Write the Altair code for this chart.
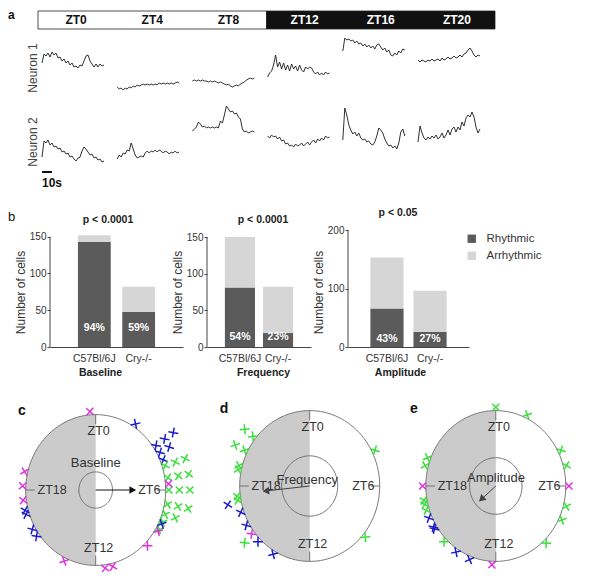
import numpy as np
import pandas as pd
import altair as alt

F = "Liberation Sans, Arial, sans-serif"
FN = "Liberation Sans Narrow, Arial Narrow, Liberation Sans, sans-serif"

# ======================= a : calcium traces =======================
zt_hours = [0, 4, 8, 12, 16, 20]
zt_labels = ["ZT0", "ZT4", "ZT8", "ZT12", "ZT16", "ZT20"]
phase_names = ["light", "dark"]
phase_start = [0, 12]
phase_end = [12, 24]

# neuron traces, one sample every 2 s over a 62 s recording (arbitrary fluorescence units)
n1_zt0 = [124,133,131,134,130,135,132,134,129,130,126,128,124,126,122,124,120,121,119,122,121,126,131,132,126,123,120,123,120,123,121,122]
n1_zt4 = [100,98,99,97,99,98,100,99,101,100,102,101,102,103,102,103,102,103,102,103,102,104,103,104,103,104,103,104,103,104,105,104]
n1_zt8 = [106,107,106,107,106,107,106,106,105,106,105,106,105,104,105,104,103,102,103,101,100,101,102,101,103,104,105,107,108,109,108,109]
n1_zt12 = [110,114,116,122,132,120,125,118,124,117,122,116,123,118,121,116,122,117,115,120,118,120,119,115,113,115,112,114,112,115,113,114]
n1_zt16 = [136,149,147,148,146,147,144,146,143,144,141,143,140,142,139,141,138,142,143,140,137,139,135,137,132,131,134,132,136,134,138,137]
n1_zt20 = [127,125,127,126,125,127,126,128,126,127,128,126,129,127,128,130,128,129,131,129,130,132,130,133,134,137,139,136,132,130,132,131]
n2_zt0 = [30,46,44,47,42,44,40,41,38,39,35,36,33,34,30,31,28,26,29,30,36,40,38,35,32,33,29,30,27,28,25,26]
n2_zt4 = [28,32,30,34,33,37,36,44,38,32,29,30,31,30,34,36,34,36,35,37,35,37,36,34,36,35,33,35,34,36,34,35]
n2_zt8 = [56,58,60,65,63,60,61,59,60,59,60,59,60,59,66,64,72,81,78,75,76,73,74,70,68,58,55,56,54,55,56,55]
n2_zt12 = [51,49,52,50,51,48,50,46,47,43,44,41,42,40,43,41,42,44,41,43,45,42,45,47,44,48,46,49,47,51,49,50]
n2_zt16 = [47,79,72,62,57,53,55,51,54,49,47,48,45,46,43,42,45,51,59,57,54,48,44,41,42,39,41,38,44,55,58,51]
n2_zt20 = [45,61,54,49,47,50,48,51,49,52,48,50,54,49,52,57,52,58,60,55,60,57,65,61,69,72,70,75,70,60,54,58]
neuron_names = ["Neuron 1", "Neuron 2"]
traces = {
    "Neuron 1": [n1_zt0, n1_zt4, n1_zt8, n1_zt12, n1_zt16, n1_zt20],
    "Neuron 2": [n2_zt0, n2_zt4, n2_zt8, n2_zt12, n2_zt16, n2_zt20],
}
SAMPLE_S = 2
RECORD_SLOT_S = 75.2
RECORD_START_S = 4

# ======================= b : rhythmic cells =======================
genotypes = ["C57Bl/6J", "Cry-/-"]
status_names = ["Rhythmic", "Arrhythmic"]
baseline_total = [152, 82]
baseline_rhythmic = [143, 48]
baseline_pct = ["94%", "59%"]
frequency_total = [150, 82]
frequency_rhythmic = [81, 19]
frequency_pct = ["54%", "23%"]
amplitude_total = [153, 96]
amplitude_rhythmic = [66, 26]
amplitude_pct = ["43%", "27%"]
p_values = ["p < 0.0001", "p < 0.0001", "p < 0.05"]
measures = ["Baseline", "Frequency", "Amplitude"]

# ======================= c-e : phase plots =======================
ring_hours = [0, 6, 12, 18]
ring_labels = ["ZT0", "ZT6", "ZT12", "ZT18"]
group_names = ["group 1", "group 2", "group 3"]
group_colors = ["#e030e0", "#1a1acc", "#36e036"]

c_hours = [23.7, 2.2, 3.7, 3.7, 3.7, 4.1, 4.1, 4.5,
           4.8, 4.8, 4.8, 5.4, 5.4, 5.4, 6.0, 6.0, 6.0, 6.7, 6.7, 6.7, 7.2, 7.2, 7.6, 8.0,
           5.7, 7.7, 8.1, 9.0, 11.1, 11.5, 13.7, 15.6, 16.0, 16.8, 17.0, 17.5, 18.2, 18.9]
c_groups = (["group 1"] + ["group 2"] * 7 + ["group 3"] * 16 +
            ["group 1", "group 2", "group 1", "group 1", "group 1", "group 1", "group 1",
             "group 2", "group 2", "group 2", "group 2", "group 1", "group 1", "group 1"])
c_levels = [0, 0, 0, 1, 2, 0, 1, 0,
            0, 1, 2, 0, 1, 2, 0, 1, 2, 0, 1, 2, 0, 1, 0, 0] + [0] * 14

d_hours = [20.6, 20.6, 19.8, 19.8, 19.0, 18.8, 17.5, 17.3, 17.2, 16.7, 16.0, 15.5, 15.4, 15.0, 14.0, 4.2, 8.7]
d_groups = ["group 3"] * 8 + ["group 2", "group 2", "group 2", "group 1", "group 3", "group 2", "group 2", "group 3", "group 3"]
d_levels = [0, 1, 0, 1, 0, 0, 0, 0, 1, 0, 0, 0, 1, 0, 0, 0, 0]

e_hours = [0.0, 1.7, 4.2, 5.0, 6.0, 7.0, 7.7, 9.1, 12.2, 13.4, 14.2, 15.0, 15.8, 15.9, 16.4, 16.8, 17.1, 17.3, 18.0, 19.0, 19.4]
e_groups = ["group 3", "group 3", "group 3", "group 3", "group 1", "group 3", "group 3", "group 3", "group 1",
            "group 2", "group 2", "group 3", "group 2", "group 2", "group 2", "group 3", "group 3", "group 3",
            "group 1", "group 3", "group 3"]
e_levels = [0] * 21

arrow_hours = [6.0, 17.6, 15.3]
arrow_lengths = [0.59, 0.69, 0.33]


def one(**kw):
    return pd.DataFrame({k: [v] for k, v in kw.items()})


# ------------------------------------------------------------------
# Panel a
# ------------------------------------------------------------------
WA, HA = 584, 177
PX_PER_H = 457 / 24.0
xs_h = alt.Scale(domain=[-30 / PX_PER_H, (WA - 30) / PX_PER_H], nice=False, zero=False)
xs_s = alt.Scale(domain=[-30, WA - 30], nice=False, zero=False)
ys_a = alt.Scale(domain=[0, HA], nice=False, zero=False)

rows = []
for name in neuron_names:
    for k, vals in enumerate(traces[name]):
        for i, v in enumerate(vals):
            rows.append({"trace": f"{name}-{zt_labels[k]}", "i": i,
                         "t": RECORD_START_S + RECORD_SLOT_S * k + SAMPLE_S * i, "v": v})
trace_df = pd.DataFrame(rows)

phase_df = pd.DataFrame({"start": phase_start, "end": phase_end, "phase": phase_names})
phase_df["y0"] = 158
phase_df["y1"] = 176
ztlab_df = pd.DataFrame({"zt": zt_hours, "label": zt_labels})
ztlab_df["mid"] = ztlab_df["zt"] + 2
ztlab_df["phase"] = np.where(ztlab_df["zt"] < 12, "light", "dark")
ztlab_df["y"] = 167


def XS(f):
    return alt.X(f, scale=xs_s, axis=None)


def YA(f):
    return alt.Y(f, scale=ys_a, axis=None)


strip = alt.Chart(phase_df).mark_rect(stroke="#222", strokeWidth=0.8).encode(
    x=alt.X("start:Q", scale=xs_h, axis=None), x2="end:Q",
    y=YA("y0:Q"), y2="y1:Q",
    fill=alt.Fill("phase:N", scale=alt.Scale(domain=phase_names, range=["white", "#111111"]), legend=None))
strip_text = alt.Chart(ztlab_df).mark_text(font=F, fontSize=12, fontWeight="bold").encode(
    x=alt.X("mid:Q", scale=xs_h, axis=None), y=YA("y:Q"), text="label:N",
    color=alt.Color("phase:N", scale=alt.Scale(domain=phase_names, range=["#111111", "white"]), legend=None))
lines = alt.Chart(trace_df).mark_line(color="#1a1a1a", strokeWidth=0.9).encode(
    x=XS("t:Q"), y=YA("v:Q"), detail="trace:N", order="i:Q")
nlab_df = pd.DataFrame({"n": neuron_names, "x": [-5, -5], "y": [119, 45]})
nlab = alt.Chart(nlab_df).mark_text(font=F, fontSize=12, angle=270, color="#444").encode(
    x=XS("x:Q"), y=YA("y:Q"), text="n:N")
scalebar = alt.Chart(one(t0=4, t1=14, y=15)).mark_rule(color="#111", strokeWidth=2).encode(
    x=XS("t0:Q"), x2="t1:Q", y=YA("y:Q"))
scalebar_txt = alt.Chart(one(s="10s", x=4, y=4)).mark_text(font=F, fontSize=12, fontWeight="bold", align="left", color="#111").encode(
    x=XS("x:Q"), y=YA("y:Q"), text="s:N")
a_lab = alt.Chart(one(s="a", x=-30, y=172)).mark_text(font=F, fontSize=12, fontWeight="bold", align="left", color="#111").encode(
    x=XS("x:Q"), y=YA("y:Q"), text="s:N")

rowA = alt.layer(strip, strip_text, lines, nlab, scalebar, scalebar_txt, a_lab).resolve_scale(
    x="independent").properties(width=WA, height=HA)

# ------------------------------------------------------------------
# Panel b
# ------------------------------------------------------------------
HB = 142


def bar_chart(total, rhythmic, pct, measure, pval, width, pin, pout, ymax, ticks,
              title_px, title_v, xtitle_x, pct_dy, legend):
    df = pd.DataFrame({
        "genotype": genotypes * 2,
        "status": [status_names[0]] * 2 + [status_names[1]] * 2,
        "cells": list(rhythmic) + [t - r for t, r in zip(total, rhythmic)],
        "ord": [0, 0, 1, 1],
    })
    xenc = alt.X("genotype:N", sort=genotypes,
                 scale=alt.Scale(paddingInner=pin, paddingOuter=pout),
                 axis=alt.Axis(title=measure, labelAngle=0, domainColor="#444", ticks=False,
                               labelFont=FN, labelFontSize=10.5, labelColor="#333", labelPadding=6,
                               titleFont=FN, titleFontSize=10.5, titleFontWeight="bold", titleColor="#222",
                               titlePadding=4, titleX=xtitle_x))
    ys = alt.Scale(domain=[0, ymax], nice=False, zero=True)
    bars = alt.Chart(df).mark_bar().encode(
        x=xenc,
        y=alt.Y("cells:Q", stack="zero", scale=ys,
                axis=alt.Axis(values=ticks, title="Number of cells", domain=False, grid=False,
                              tickSize=3, tickColor="#444", labelFont=FN, labelFontSize=10,
                              labelColor="#333", labelPadding=1, titleFont=F, titleFontSize=12,
                              titleFontWeight="normal", titleColor="#333", titlePadding=2, titleY=87)),
        color=alt.Color("status:N", scale=alt.Scale(domain=status_names, range=["#5b5b5b", "#d6d6d6"]),
                        legend=legend),
        order=alt.Order("ord:Q"),
    )
    yline = alt.Chart(one(y0=0, y1=ticks[-1])).mark_rule(color="#444", strokeWidth=1).encode(
        x=alt.value(0), y=alt.Y("y0:Q", scale=ys), y2="y1:Q")
    pdf = pd.DataFrame({"genotype": genotypes, "pct": pct, "y": [0, 0]})
    ptxt = alt.Chart(pdf).mark_text(color="white", font=FN, fontSize=10.5, fontWeight="bold", dy=pct_dy).encode(
        x=alt.X("genotype:N", sort=genotypes), y=alt.Y("y:Q", scale=ys), text="pct:N")
    ttl = alt.Chart(one(p=pval, y=title_v)).mark_text(font=FN, fontSize=10.5, fontWeight="bold", color="#222").encode(
        x=alt.value(title_px), y=alt.Y("y:Q", scale=ys), text="p:N")
    return alt.layer(bars, yline, ptxt, ttl).properties(width=width, height=HB)


b1 = bar_chart(baseline_total, baseline_rhythmic, baseline_pct, measures[0], p_values[0],
               133, 0.26, 0.63, HB / 0.7353, [0, 50, 100, 150], 58, 172.7, 50, -19, None)
b2 = bar_chart(frequency_total, frequency_rhythmic, frequency_pct, measures[1], p_values[1],
               104, 0.21, 0.47, HB / 0.7333, [0, 50, 100, 150], 56, 172.7, 56, -10, None)
leg = alt.Legend(orient="none", legendX=118, legendY=28, title=None, symbolType="square", symbolSize=70,
                 symbolStrokeWidth=0, labelFont=F, labelFontSize=11.5, labelColor="#333", rowPadding=4,
                 labelOffset=9)
b3 = bar_chart(amplitude_total, amplitude_rhythmic, amplitude_pct, measures[2], p_values[2],
               121, 0.23, 0.52, HB / 0.585, [0, 50, 100, 150, 200], 50, 229, 52, -8, leg)


def spacer(w):
    return alt.Chart(one(s="")).mark_text().encode(text="s:N").properties(width=w, height=HB)


b_lab = alt.Chart(one(s="b")).mark_text(font=F, fontSize=13, align="left", color="#111").encode(
    text="s:N", x=alt.value(0), y=alt.value(12)).properties(width=42, height=HB)

rowB = alt.hconcat(b_lab, b1, spacer(24), b2, spacer(37), b3, spacing=0, bounds="flush").resolve_scale(
    color="independent").resolve_legend(color="independent")

# ------------------------------------------------------------------
# Panels c - e
# ------------------------------------------------------------------
RX, RY = 70.0, 75.4
ROW_C_TOP, ROW_C_BOTTOM = 392, 568
STACK_STEP = 0.15
theta = np.radians(np.arange(0, 361, 3))
circle_df = pd.DataFrame({"x": np.sin(theta), "y": np.cos(theta), "i": np.arange(len(theta))})
half_theta = np.radians(np.arange(180, 361, 3))
half_df = pd.DataFrame({"x": np.sin(half_theta), "y": np.cos(half_theta), "x0": 0.0})


def phase_panel(letter, letter_xy, center_text, center_xy, left, width, cx, cy,
                hours, groups, levels, arrow_hour, arrow_len, arrow_color, inner_r):
    xs = alt.Scale(domain=[(left - cx) / RX, (left + width - cx) / RX], nice=False, zero=False)
    ys = alt.Scale(domain=[-(ROW_C_BOTTOM - cy) / RY, (cy - ROW_C_TOP) / RY], nice=False, zero=False)

    def X(f):
        return alt.X(f, scale=xs, axis=None)

    def Y(f):
        return alt.Y(f, scale=ys, axis=None)

    half = alt.Chart(half_df).mark_area(orient="horizontal", color="#cbcbcb").encode(
        x=X("x:Q"), x2="x0:Q", y=Y("y:Q"))
    outer = alt.Chart(circle_df).mark_line(color="#7a7a7a", strokeWidth=1).encode(
        x=X("x:Q"), y=Y("y:Q"), order="i:Q")
    inner_df = pd.DataFrame({"x": circle_df["x"] * inner_r, "y": circle_df["y"] * inner_r, "i": circle_df["i"]})
    inner = alt.Chart(inner_df).mark_line(color="#666", strokeWidth=0.9).encode(
        x=X("x:Q"), y=Y("y:Q"), order="i:Q")

    th = np.array(ring_hours) / 24 * 2 * np.pi
    tick_df = pd.DataFrame({"x0": 0.87 * np.sin(th), "y0": 0.87 * np.cos(th), "x1": np.sin(th), "y1": np.cos(th)})
    ticks = alt.Chart(tick_df).mark_rule(color="#666", strokeWidth=0.9).encode(
        x=X("x0:Q"), y=Y("y0:Q"), x2="x1:Q", y2="y1:Q")

    lab_df = pd.DataFrame({"h": ring_hours, "label": ring_labels})
    lab_tb = lab_df[lab_df.h.isin([0, 12])].copy()
    lab_tb["x"] = 0.0
    lab_tb["y"] = np.where(lab_tb.h == 0, 0.78, -0.77)
    lab_r = lab_df[lab_df.h == 6].assign(x=0.925, y=0.0)
    lab_l = lab_df[lab_df.h == 18].assign(x=-0.83, y=0.0)
    tl = dict(font=F, fontSize=12.5, color="#333")
    l1 = alt.Chart(lab_tb).mark_text(dx=3, **tl).encode(x=X("x:Q"), y=Y("y:Q"), text="label:N")
    l2 = alt.Chart(lab_r).mark_text(align="right", **tl).encode(x=X("x:Q"), y=Y("y:Q"), text="label:N")
    l3 = alt.Chart(lab_l).mark_text(align="left", **tl).encode(x=X("x:Q"), y=Y("y:Q"), text="label:N")

    ctr = alt.Chart(one(s=center_text, x=center_xy[0], y=center_xy[1])).mark_text(font=F, fontSize=13, color="#333").encode(
        x=X("x:Q"), y=Y("y:Q"), text="s:N")

    a = arrow_hour / 24 * 2 * np.pi
    ang = float(np.degrees(np.arctan2(np.sin(a) * RX, np.cos(a) * RY)) % 360)
    arr_df = one(x0=0.0, y0=0.0,
                 x1=(arrow_len - 0.07) * np.sin(a), y1=(arrow_len - 0.07) * np.cos(a),
                 hx=(arrow_len - 0.06) * np.sin(a), hy=(arrow_len - 0.06) * np.cos(a), ang=ang)
    shaft = alt.Chart(arr_df).mark_rule(color=arrow_color, strokeWidth=1).encode(
        x=X("x0:Q"), y=Y("y0:Q"), x2="x1:Q", y2="y1:Q")
    head = alt.Chart(arr_df).mark_point(shape="triangle-up", filled=True, size=60, color=arrow_color, opacity=1).encode(
        x=X("hx:Q"), y=Y("hy:Q"), angle=alt.Angle("ang:Q", scale=None))

    hh = np.array(hours, dtype=float)
    tm = hh / 24 * 2 * np.pi
    r = 1.045 + STACK_STEP * np.array(levels)
    mdf = pd.DataFrame({"x": r * np.sin(tm), "y": r * np.cos(tm), "group": groups, "ang": (45 + hh * 15) % 360})
    marks = alt.Chart(mdf).mark_point(shape="M -1 0 L 1 0 M 0 -1 L 0 1", filled=False, size=100,
                                      strokeWidth=1.5, opacity=1).encode(
        x=X("x:Q"), y=Y("y:Q"),
        color=alt.Color("group:N", scale=alt.Scale(domain=group_names, range=group_colors), legend=None),
        angle=alt.Angle("ang:Q", scale=None))

    let = alt.Chart(one(s=letter, x=letter_xy[0], y=letter_xy[1])).mark_text(font=F, fontSize=14, fontWeight="bold", color="#111").encode(
        x=X("x:Q"), y=Y("y:Q"), text="s:N")

    return alt.layer(half, outer, inner, ticks, l1, l2, l3, ctr, shaft, head, marks, let).properties(
        width=width, height=ROW_C_BOTTOM - ROW_C_TOP)


pc = phase_panel("c", (-1.053, 1.048), "Baseline", (0.0, 0.358), 8, 195, 95.7, 488,
                 c_hours, c_groups, c_levels, arrow_hours[0], arrow_lengths[0], "#111", 0.24)
pd_ = phase_panel("d", (-1.224, 1.021), "Frequency", (-0.034, 0.084), 203, 200, 309.7, 484,
                  d_hours, d_groups, d_levels, arrow_hours[1], arrow_lengths[1], "#444", 0.40)
pe = phase_panel("e", (-1.169, 1.021), "Amplitude", (0.003, 0.102), 403, 189, 495.8, 484,
                 e_hours, e_groups, e_levels, arrow_hours[2], arrow_lengths[2], "#444", 0.375)

rowC = alt.hconcat(pc, pd_, pe, spacing=0, bounds="flush")

chart = alt.vconcat(rowA, rowB, rowC, spacing=16).resolve_scale(
    color="independent", fill="independent").properties(padding=0).configure(font=F).configure_view(strokeWidth=0)

chart.save("out.html", embed_options={"renderer": "svg", "actions": False})
